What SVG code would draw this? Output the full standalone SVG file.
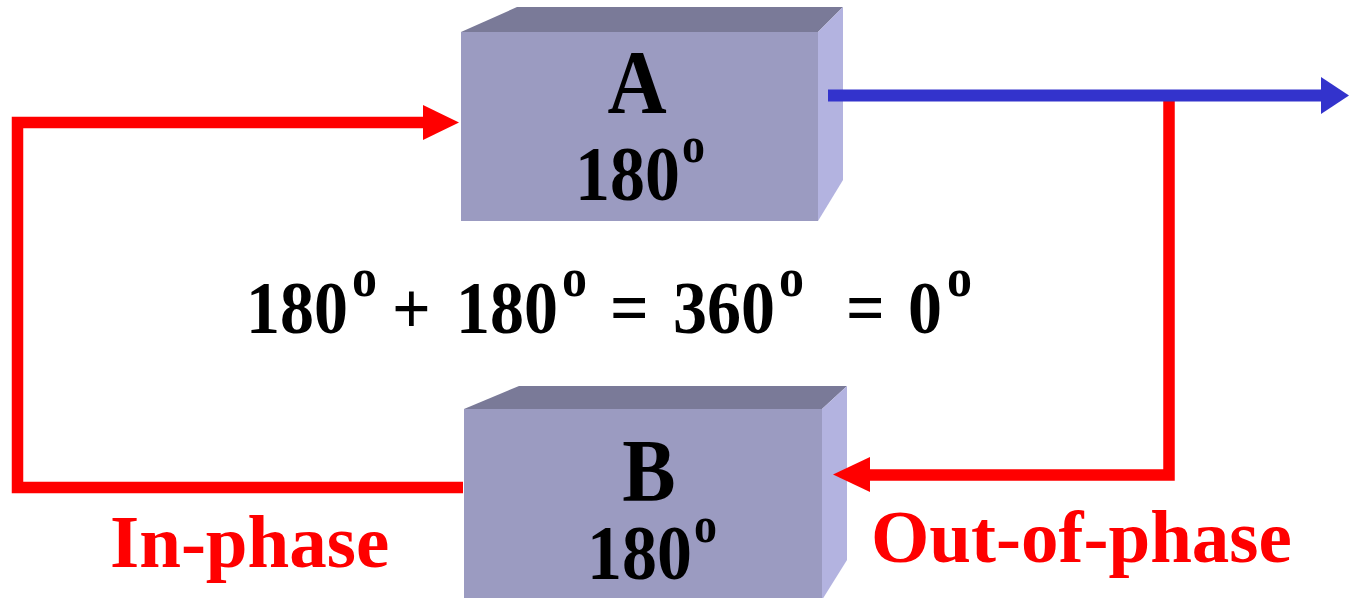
<svg xmlns="http://www.w3.org/2000/svg" width="1349" height="598" viewBox="0 0 1349 598">
<style>
.front{fill:#9b9bc1}
.top{fill:#7a7a98}
.side{fill:#b3b3e0}
.t{font-family:"Liberation Serif","Times New Roman",serif;font-weight:bold;fill:#000}
.red{fill:none;stroke:#ff0000;stroke-width:11.5;stroke-linejoin:miter}
.blue{fill:none;stroke:#3333cc;stroke-width:12}
.lbl{font-family:"Liberation Serif","Times New Roman",serif;font-weight:bold;fill:#ff0000;font-size:75px}
</style>
<rect width="1349" height="598" fill="#ffffff"/>
<g id="nodeA">
<polygon class="top" points="461,32 517,7 843,7 818,32"/>
<polygon class="side" points="818,32 843,7 843,180 818,221"/>
<rect class="front" x="461" y="32" width="357" height="189"/>
<text class="t" font-size="82" text-anchor="middle" transform="translate(637,113) scale(1,1.1)">A</text>
<text class="t" font-size="70" transform="translate(575,200) scale(1,1.12)">180</text>
<text class="t" font-size="46" transform="translate(682,162) scale(1,1.1)">o</text>
</g>
<g id="nodeB">
<polygon class="top" points="464,409 519,386 847,386 822,409"/>
<polygon class="side" points="822,409 847,386 847,560 822,600"/>
<rect class="front" x="464" y="409" width="358" height="191"/>
<text class="t" font-size="80" text-anchor="middle" transform="translate(649,500) scale(1,1.1)">B</text>
<text class="t" font-size="70" transform="translate(587,579) scale(1,1.12)">180</text>
<text class="t" font-size="46" transform="translate(694,542) scale(1,1.1)">o</text>
</g>
<g id="connectors">
<polyline class="red" points="463,487.5 17.5,487.5 17.5,122.5 424,122.5"/>
<polygon fill="#ff0000" points="423,105 459,122.5 423,140"/>
<polyline class="red" points="1169,101 1169,475 869,475"/>
<polygon fill="#ff0000" points="870,457 833,474.5 870,492"/>
<line class="blue" x1="828" y1="95.5" x2="1322" y2="95.5"/>
<polygon fill="#3333cc" points="1321,77 1349,95.5 1321,114"/>
</g>
<g id="equation">
<g transform="translate(0,333) scale(1,1.1)">
<text class="t" font-size="68" x="246" y="0">180</text>
<text class="t" font-size="68" x="392" y="0">+</text>
<text class="t" font-size="68" x="456" y="0">180</text>
<text class="t" font-size="68" x="610" y="0">=</text>
<text class="t" font-size="68" x="673" y="0">360</text>
<text class="t" font-size="68" x="846" y="0">=</text>
<text class="t" font-size="68" x="908" y="0">0</text>
</g>
<g transform="translate(0,296) scale(1,1.1)">
<text class="t" font-size="50" x="352" y="0">o</text>
<text class="t" font-size="50" x="562" y="0">o</text>
<text class="t" font-size="50" x="779" y="0">o</text>
<text class="t" font-size="50" x="947" y="0">o</text>
</g>
</g>
<g id="labels">
<text class="lbl" x="110" y="567">In-phase</text>
<text class="lbl" x="871" y="562">Out-of-phase</text>
</g>
</svg>
